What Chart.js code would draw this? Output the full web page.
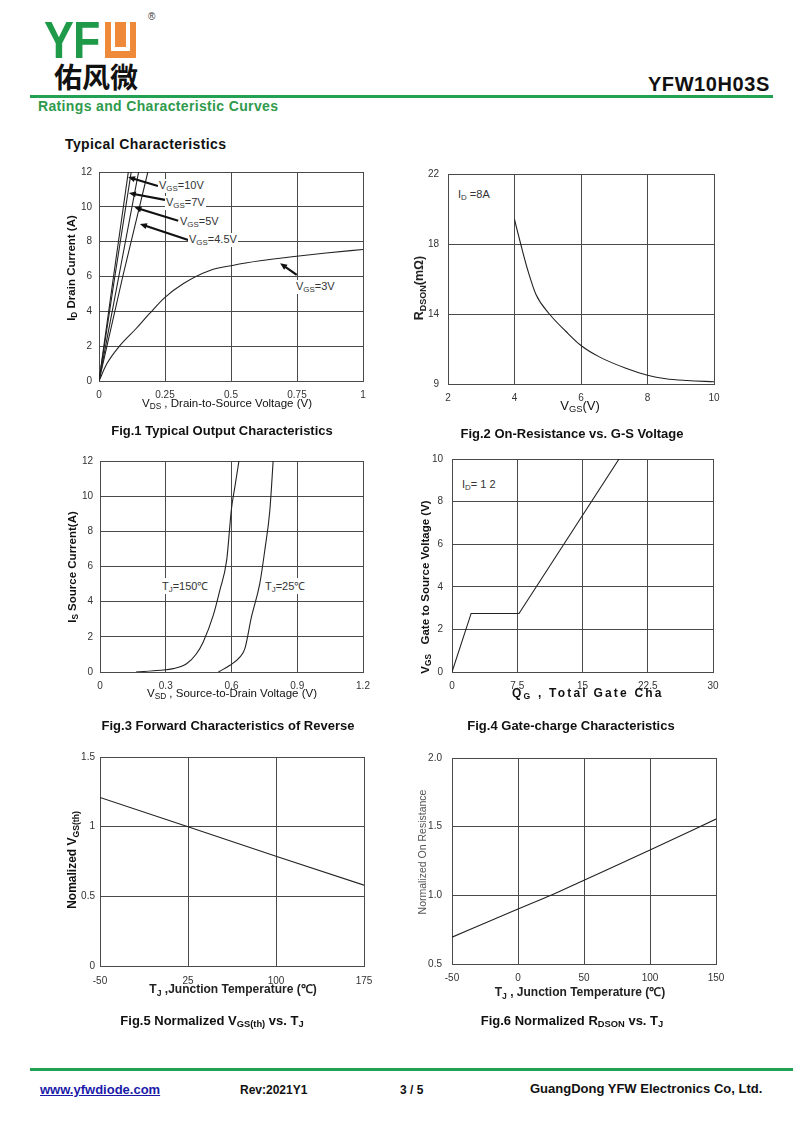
<!DOCTYPE html>
<html>
<head>
<meta charset="utf-8">
<script src="https://cdn.jsdelivr.net/npm/chart.js@4.4.1/dist/chart.umd.min.js"></script>
<style>
  body{margin:0;background:#fff;}
  #page{position:relative;width:800px;height:1130px;overflow:hidden;font-family:"Liberation Sans",Arial,sans-serif;color:#111;}
  #page canvas{position:absolute;}
  .t{position:absolute;white-space:nowrap;}
  .c{transform:translate(-50%,-50%);}
  .yl{transform:translate(-50%,-50%) rotate(-90deg);}
  .lbl{position:absolute;white-space:nowrap;font-size:11px;color:#333;background:#fff;transform:translateY(-50%);padding:0 1px;}
  sub{font-size:.72em;vertical-align:-.25em;}
  .cap{position:absolute;white-space:nowrap;font-weight:bold;font-size:13px;transform:translate(-50%,-50%);}
  .gl{position:absolute;height:3px;background:#22a152;}
</style>
</head>
<body>
<div id="page">
  <!-- header -->
  <div class="t" style="left:44px;top:14px;font:bold 52px/52px 'Liberation Sans',Arial;color:#1f9a48;transform:scaleX(.86);transform-origin:left top;letter-spacing:-1px">YF</div>
  <svg style="position:absolute;left:105px;top:22px" width="31" height="36"><rect width="31" height="36" fill="#ef8a3b"/><path d="M8 0 V27 H23 V0" stroke="#fff" stroke-width="4" fill="none"/></svg>
  <div class="t" style="left:148px;top:11px;font-size:10px;color:#333">®</div>
  <div class="t" style="left:54px;top:58px;font:bold 28px/36px 'Noto Sans CJK SC';color:#111">佑风微</div>
  <div class="t" style="right:30px;top:73px;font:bold 20px 'Liberation Sans',Arial;color:#111;letter-spacing:.6px">YFW10H03S</div>
  <div class="gl" style="left:30px;top:95px;width:743px"></div>
  <div class="t" style="left:38px;top:98px;font:bold 14px 'Liberation Sans',Arial;color:#2f9a4c;letter-spacing:.35px">Ratings and Characteristic Curves</div>
  <div class="t" style="left:65px;top:136px;font:bold 14px 'Liberation Sans',Arial;color:#111;letter-spacing:.4px">Typical Characteristics</div>

  <canvas id="fig1"></canvas>
  <canvas id="fig2"></canvas>
  <canvas id="fig3"></canvas>
  <canvas id="fig4"></canvas>
  <canvas id="fig5"></canvas>
  <canvas id="fig6"></canvas>

  <!-- fig1 texts -->
  <div class="t yl" style="left:72px;top:268px;font-weight:bold;font-size:11.5px">I<sub>D</sub> Drain Current (A)</div>
  <div class="t c" style="left:227px;top:404px;font-size:11.5px">V<sub>DS</sub> , Drain-to-Source Voltage (V)</div>
  <div class="lbl" style="left:158px;top:186px">V<sub>GS</sub>=10V</div>
  <div class="lbl" style="left:165px;top:203px">V<sub>GS</sub>=7V</div>
  <div class="lbl" style="left:179px;top:222px">V<sub>GS</sub>=5V</div>
  <div class="lbl" style="left:188px;top:240px">V<sub>GS</sub>=4.5V</div>
  <div class="lbl" style="left:295px;top:287px">V<sub>GS</sub>=3V</div>
  <div class="cap" style="left:222px;top:430px">Fig.1 Typical Output Characteristics</div>

  <!-- fig2 texts -->
  <div class="t yl" style="left:420px;top:288px;font-size:12.5px;font-weight:bold;color:#222">R<sub>DSON</sub>(mΩ)</div>
  <div class="t c" style="left:580px;top:406px;font-size:13px">V<sub>GS</sub>(V)</div>
  <div class="lbl" style="left:457px;top:195px">I<sub>D</sub> =8A</div>
  <div class="cap" style="left:572px;top:433px">Fig.2 On-Resistance vs. G-S Voltage</div>

  <!-- fig3 texts -->
  <div class="t yl" style="left:73px;top:567px;font-weight:bold;font-size:11.5px">I<sub>S</sub> Source Current(A)</div>
  <div class="t c" style="left:232px;top:694px;font-size:11.5px">V<sub>SD</sub> , Source-to-Drain Voltage (V)</div>
  <div class="lbl" style="left:161px;top:586px">T<sub>J</sub>=150℃</div>
  <div class="lbl" style="left:264px;top:586px">T<sub>J</sub>=25℃</div>
  <div class="cap" style="left:228px;top:725px">Fig.3 Forward Characteristics of Reverse</div>

  <!-- fig4 texts -->
  <div class="t yl" style="left:426px;top:587px;font-weight:bold;font-size:11.5px">V<sub>GS</sub>&nbsp;&nbsp; Gate to Source Voltage (V)</div>
  <div class="t" style="left:512px;top:686px;font-size:12px;font-weight:bold;letter-spacing:2.2px">Q<sub>G</sub> , Total Gate Cha</div>
  <div class="lbl" style="left:461px;top:485px">I<sub>D</sub>= 1 2</div>
  <div class="cap" style="left:571px;top:725px">Fig.4 Gate-charge Characteristics</div>

  <!-- fig5 texts -->
  <div class="t yl" style="left:73px;top:860px;font-weight:bold;font-size:12px">Nomalized V<sub>GS(th)</sub></div>
  <div class="t c" style="left:233px;top:989px;font-size:12px;font-weight:bold;color:#222">T<sub>J</sub> ,Junction Temperature (℃)</div>
  <div class="cap" style="left:212px;top:1021px">Fig.5 Normalized V<sub>GS(th)</sub> vs. T<sub>J</sub></div>

  <!-- fig6 texts -->
  <div class="t yl" style="left:422px;top:852px;font-size:10.5px;color:#555">Normalized On Resistance</div>
  <div class="t c" style="left:580px;top:992px;font-size:12px;font-weight:bold;color:#222">T<sub>J</sub> , Junction Temperature (℃)</div>
  <div class="cap" style="left:572px;top:1021px">Fig.6 Normalized R<sub>DSON</sub> vs. T<sub>J</sub></div>

  <!-- footer -->
  <div class="gl" style="left:30px;top:1068px;width:763px"></div>
  <div class="t" style="left:40px;top:1082px;font:bold 13px 'Liberation Sans',Arial;color:#1a1aa8;text-decoration:underline">www.yfwdiode.com</div>
  <div class="t" style="left:240px;top:1083px;font:bold 12px 'Liberation Sans',Arial">Rev:2021Y1</div>
  <div class="t" style="left:400px;top:1083px;font:bold 12px 'Liberation Sans',Arial">3 / 5</div>
  <div class="t" style="left:530px;top:1081px;font:bold 13px 'Liberation Sans',Arial">GuangDong YFW Electronics Co, Ltd.</div>
</div>

<script>
// Fig.1 output characteristics
const vds3V=[0,0.03,0.08,0.14,0.19,0.25,0.32,0.42,0.51,0.61,0.74,0.86,1.0];
const id3V=[0,1.0,2.05,3.0,3.85,4.8,5.6,6.35,6.65,6.9,7.15,7.35,7.55];
const vds45V=[0,0.09,0.185];
const id45V=[0,6.0,12];
const vds5V=[0,0.075,0.15];
const id5V=[0,6.0,12];
const vds7V=[0,0.06,0.122];
const id7V=[0,6.0,12];
const vds10V=[0,0.055,0.111];
const id10V=[0,6.0,12];
// arrows (tail -> head) in data units
const arrowTailX=[0.223,0.25,0.30,0.338,0.749];
const arrowTailY=[11.2,10.4,9.2,8.1,6.09];
const arrowHeadX=[0.110,0.113,0.134,0.155,0.686];
const arrowHeadY=[11.71,10.79,9.97,9.02,6.76];

// Fig.2 on-resistance vs VGS
const vgsR=[4.0,4.2,4.4,4.65,5.05,5.55,6.0,6.55,7.35,8.0,8.55,9.2,10];
const rdson=[19.4,17.9,16.5,15.1,14.0,13.0,12.2,11.55,10.9,10.5,10.3,10.2,10.13];

// Fig.3 body diode forward
const vsd150=[0.164,0.274,0.334,0.395,0.44,0.471,0.517,0.547,0.578,0.6,0.615,0.634];
const is150=[0,0.1,0.19,0.47,1.04,1.71,3.23,4.65,6.36,9.3,10.5,12];
const vsd25=[0.54,0.593,0.638,0.661,0.691,0.729,0.752,0.775,0.79];
const is25=[0,0.38,0.85,1.33,3.13,5.03,6.93,9.2,12];

// Fig.4 gate charge
const qg=[0,2.2,7.7,19.2];
const vgsQ=[0,2.75,2.75,10];

// Fig.5 normalized threshold
const tj5=[-50,25,100,175];
const vthN=[1.21,1.0,0.787,0.58];

// Fig.6 normalized on resistance
const tj6=[-50,0,25,50,100,150];
const ronN=[0.695,0.90,1.0,1.11,1.33,1.555];

const FONT='"Liberation Sans", Arial, sans-serif';
const GRID='#4a4a4a';
const PL=50,PT=20,PR=25,PB=25;

// plot areas on the page: left, top, right, bottom
const areas={
  fig1:[99,172,363,381],
  fig2:[448,174,714,384],
  fig3:[100,461,363,672],
  fig4:[452,459,713,672],
  fig5:[100,757,364,966],
  fig6:[452,758,716,964]
};

function mount(id){
  const a=areas[id], c=document.getElementById(id);
  c.width=a[2]-a[0]+PL+PR; c.height=a[3]-a[1]+PT+PB;
  c.style.left=(a[0]-PL)+'px'; c.style.top=(a[1]-PT)+'px';
  return c.getContext('2d');
}
const pts=(xs,ys)=>xs.map((x,i)=>({x:x,y:ys[i]}));
const num=d=>v=>String(+v.toFixed(d));
function axis(min,max,step,isY,pad,fmt){
  const t={stepSize:step,padding:pad,color:'#333',font:{family:FONT,size:10},autoSkip:false,maxRotation:0};
  if(fmt) t.callback=fmt;
  return {type:'linear',min:min,max:max,ticks:t,
    grid:{color:GRID,lineWidth:1,drawTicks:false},border:{color:GRID,width:1},
    afterFit:s=>{ if(isY) s.width=PL; else s.height=PB; }};
}
function line(data,smooth){
  return {data:data,showLine:true,borderColor:'#222',borderWidth:1.1,pointRadius:0,fill:false,
    tension:smooth?0.4:0,cubicInterpolationMode:smooth?'monotone':'default'};
}
function make(id,datasets,xs,ys,plugins){
  return new Chart(mount(id),{type:'scatter',data:{datasets:datasets},
    options:{responsive:false,animation:false,events:[],
      layout:{padding:{top:PT,right:PR,left:0,bottom:0}},
      plugins:{legend:{display:false},tooltip:{enabled:false}},
      scales:{x:xs,y:ys}},
    plugins:plugins||[]});
}

const arrows={id:'arrows',afterDatasetsDraw(ch){
  const ctx=ch.ctx,sx=ch.scales.x,sy=ch.scales.y;
  ctx.save();ctx.strokeStyle='#111';ctx.fillStyle='#111';ctx.lineWidth=2.2;
  arrowTailX.forEach((_,i)=>{
    const x1=sx.getPixelForValue(arrowTailX[i]),y1=sy.getPixelForValue(arrowTailY[i]);
    const x2=sx.getPixelForValue(arrowHeadX[i]),y2=sy.getPixelForValue(arrowHeadY[i]);
    const ang=Math.atan2(y2-y1,x2-x1);
    ctx.beginPath();ctx.moveTo(x1,y1);ctx.lineTo(x2-5*Math.cos(ang),y2-5*Math.sin(ang));ctx.stroke();
    ctx.beginPath();ctx.moveTo(x2,y2);
    ctx.lineTo(x2-7*Math.cos(ang)+3*Math.sin(ang),y2-7*Math.sin(ang)-3*Math.cos(ang));
    ctx.lineTo(x2-7*Math.cos(ang)-3*Math.sin(ang),y2-7*Math.sin(ang)+3*Math.cos(ang));
    ctx.closePath();ctx.fill();
  });
  ctx.restore();
}};

make('fig1',[line(pts(vds3V,id3V),true),line(pts(vds45V,id45V)),line(pts(vds5V,id5V)),
  line(pts(vds7V,id7V)),line(pts(vds10V,id10V))],
  axis(0,1,0.25,false,8,num(2)),
  axis(0,12,2,true,7),[arrows]);

make('fig2',[line(pts(vgsR,rdson),true)],
  axis(2,10,2,false,8),
  axis(10,22,4,true,9,v=>v===10?'9':String(v)));

make('fig3',[line(pts(vsd150,is150),true),line(pts(vsd25,is25),true)],
  axis(0,1.2,0.3,false,8,num(1)),
  axis(0,12,2,true,7));

make('fig4',[line(pts(qg,vgsQ))],
  axis(0,30,7.5,false,8,num(1)),
  axis(0,10,2,true,9));

make('fig5',[line(pts(tj5,vthN))],
  axis(-50,175,75,false,9),
  axis(0,1.5,0.5,true,5,num(1)));

make('fig6',[line(pts(tj6,ronN),true)],
  axis(-50,150,50,false,8),
  axis(0.5,2.0,0.5,true,10,v=>v.toFixed(1)));
</script>
</body>
</html>
